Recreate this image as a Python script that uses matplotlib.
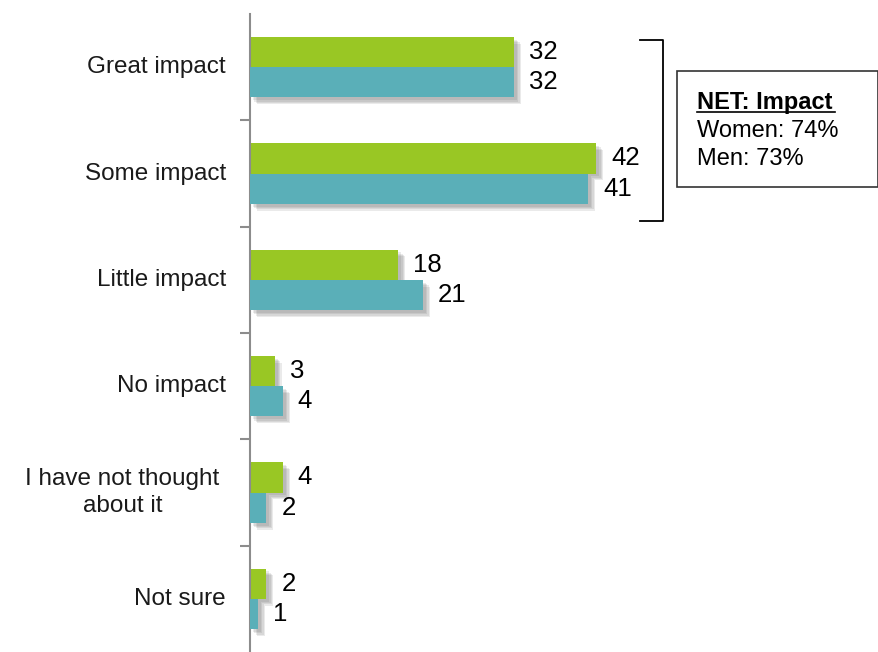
import matplotlib
matplotlib.use("Agg")
import matplotlib.pyplot as plt
import matplotlib.patheffects as pe
import numpy as np

# Data
categories = ["Great impact", "Some impact", "Little impact", "No impact",
              "I have not thought\nabout it", "Not sure"]
women = [32, 42, 18, 3, 4, 2]
men = [32, 41, 21, 4, 2, 1]

GREEN = "#99c724"
TEAL = "#5aafb8"

plt.rcParams["font.family"] = ["Liberation Sans", "DejaVu Sans"]

fig = plt.figure(figsize=(8.79, 6.52), dpi=100)
ax = fig.add_axes([250 / 879, 0, 629 / 879, 1 - 14 / 652])

y = np.arange(len(categories))
h = 0.285
# soft drop shadow made of a few faint offset copies
shadow = [pe.SimplePatchShadow(offset=(o, -o), shadow_rgbFace="#555555", alpha=0.12)
          for o in (5, 4, 3, 2)] + [pe.Normal()]

b1 = ax.barh(y - h / 2, women, height=h, color=GREEN, zorder=2)
b2 = ax.barh(y + h / 2, men, height=h, color=TEAL, zorder=3)
for b in list(b1) + list(b2):
    b.set_path_effects(shadow)

for i in range(len(categories)):
    ax.text(women[i] + 1.8, y[i] - h / 2, str(women[i]), va="center", ha="left", fontsize=18.5)
    ax.text(men[i] + 1.8, y[i] + h / 2, str(men[i]), va="center", ha="left", fontsize=18.5)

ax.set_xlim(0, 629 / 8.25)
ax.set_ylim(len(categories) - 0.5, -0.5)

for s in ["top", "right", "bottom"]:
    ax.spines[s].set_visible(False)
ax.spines["left"].set_color("#8c8c8c")
ax.spines["left"].set_linewidth(1.5)
ax.set_xticks([])
ax.set_yticks(np.arange(0.5, len(categories) - 0.5, 1))
ax.set_yticklabels([])
ax.tick_params(axis="y", length=7, width=1.5, color="#8c8c8c")

for i, c in enumerate(categories):
    xoff = -3.7 if "\n" in c else -2.9
    ax.text(xoff, y[i], c, ha="right", va="center", multialignment="center",
            fontsize=17.5, color="#1a1a1a", linespacing=1.35)

# bracket + NET box (in figure pixel coords)
def fx(px):
    return px / 879

def fy(py):
    return 1 - py / 652

fig.add_artist(plt.Line2D([fx(640), fx(663), fx(663), fx(640)],
                          [fy(40), fy(40), fy(221), fy(221)], color="black", lw=1.3))
box = plt.Rectangle((fx(677), fy(187)), fx(878) - fx(677), fy(71) - fy(187),
                    transform=fig.transFigure, fill=False, edgecolor="#333333", lw=1.2)
fig.add_artist(box)
fig.text(fx(697), fy(102), "NET: Impact", fontsize=17, fontweight="bold", va="center", ha="left")
fig.add_artist(plt.Line2D([fx(697), fx(835)], [fy(112), fy(112)], color="black", lw=1.2))
fig.text(fx(697), fy(131), "Women: 74%", fontsize=17, va="center", ha="left")
fig.text(fx(697), fy(159), "Men: 73%", fontsize=17, va="center", ha="left")

fig.savefig("out.png", dpi=100)
